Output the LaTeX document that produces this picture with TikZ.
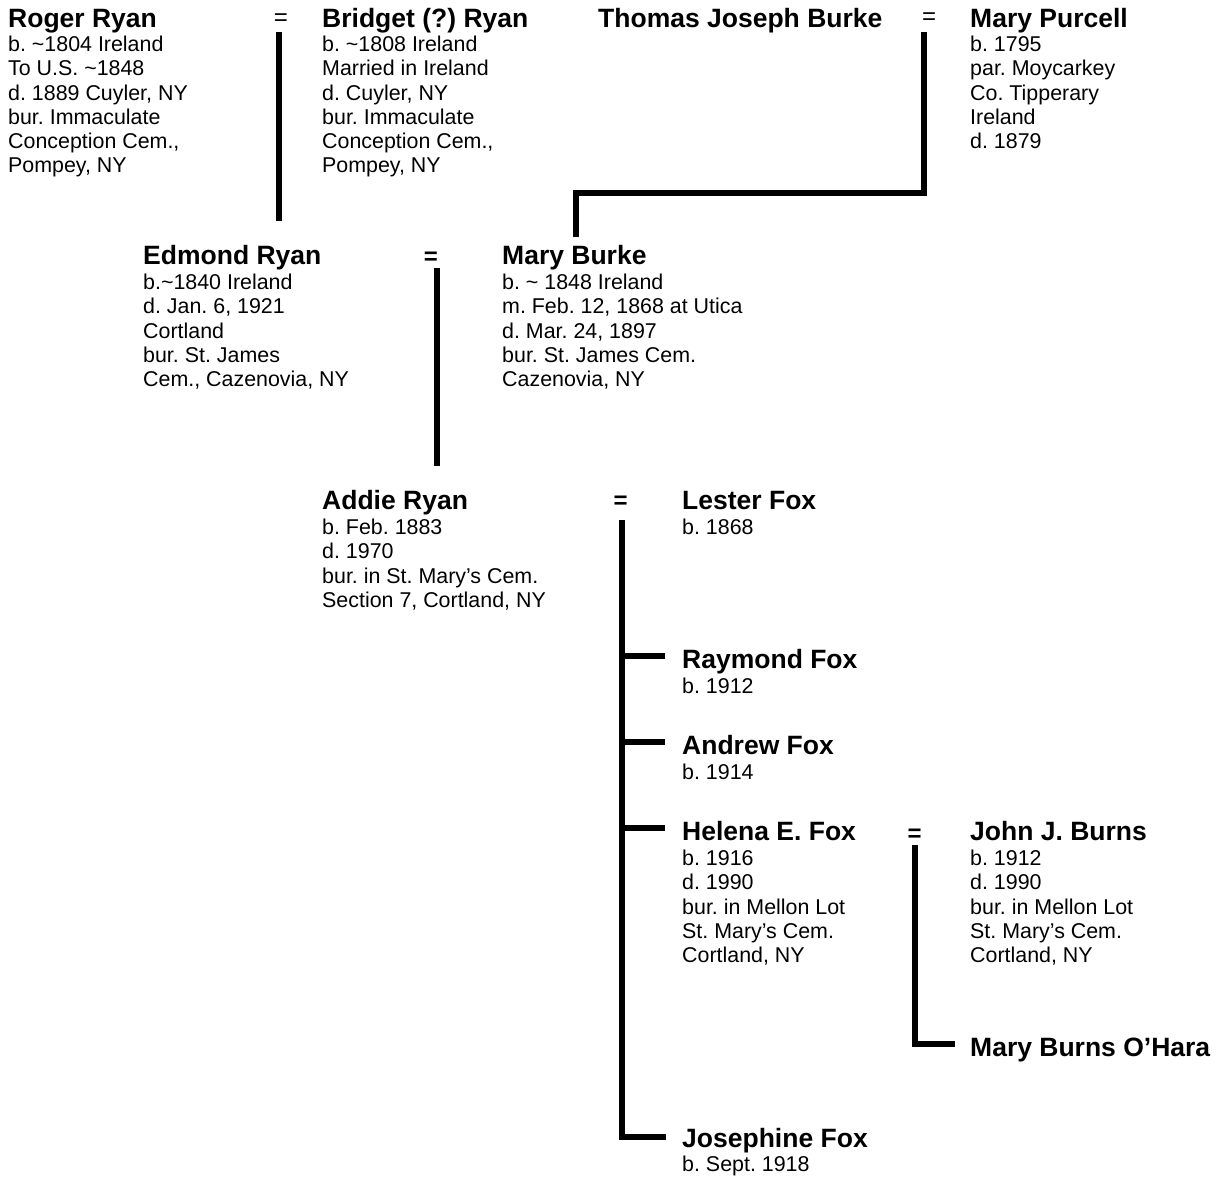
\documentclass[tikz,border=0pt]{standalone}
\usepackage{fontspec}
\setmainfont{Liberation Sans}
\usetikzlibrary{positioning}
\frenchspacing

\begin{document}
\begin{tikzpicture}[x=1pt,y=1pt]
  \tikzstyle{person} = [inner sep=0,anchor=base west,font=\fontsize{26.5}{30}\selectfont\bfseries];
  \tikzstyle{facts} = [inner sep=0,align=left,font=\fontsize{21.4}{24.2}\selectfont];
  \tikzstyle{wed} = [inner sep=0,font=\fontsize{24}{24}\selectfont];
  \tikzstyle{bwed} = [wed,font=\fontsize{24}{24}\selectfont\bfseries];
  \tikzstyle{tie} = [line width=6pt];
  \useasboundingbox (0,0) rectangle (1220,-1178);
  \node[person] (roger) at (8,-27) {Roger Ryan};
  \node[facts,below right=9pt and 0pt of roger.base west] (rogerF) {b. \textasciitilde1804 Ireland\\To U.S. \textasciitilde1848\\d. 1889 Cuyler, NY\\bur. Immaculate\\Conception Cem.,\\Pompey, NY};
  \node[wed] (eqRB) at (281,-20) {=};
  \node[person] (bridget) at (322,-27) {Bridget (?) Ryan};
  \node[facts,below right=9pt and 0pt of bridget.base west] (bridgetF) {b. \textasciitilde1808 Ireland\\Married in Ireland\\d. Cuyler, NY\\bur. Immaculate\\Conception Cem.,\\Pompey, NY};
  \node[person] (thomas) at (598,-27) {Thomas Joseph Burke};
  \node[wed] (eqTM) at (929,-19) {=};
  \node[person] (mpurcell) at (970,-27) {Mary Purcell};
  \node[facts,below right=9pt and 0pt of mpurcell.base west] (mpurcellF) {b. 1795\\par. Moycarkey\\Co. Tipperary\\Ireland\\d. 1879};
  \node[person] (edmond) at (143,-264) {Edmond Ryan};
  \node[facts,below right=10pt and 0pt of edmond.base west] (edmondF) {b.\textasciitilde1840 Ireland\\d. Jan. 6, 1921\\Cortland\\bur. St. James\\Cem., Cazenovia, NY};
  \node[bwed] (eqEM) at (431,-258) {=};
  \node[person] (mburke) at (502,-264) {Mary Burke};
  \node[facts,below right=10pt and 0pt of mburke.base west] (mburkeF) {b. \textasciitilde{} 1848 Ireland\\m. Feb. 12, 1868 at Utica\\d. Mar. 24, 1897\\bur. St. James Cem.\\Cazenovia, NY};
  \node[person] (addie) at (322,-509) {Addie Ryan};
  \node[facts,below right=10pt and 0pt of addie.base west] (addieF) {b. Feb. 1883\\d. 1970\\bur. in St. Mary’s Cem.\\Section 7, Cortland, NY};
  \node[bwed] (eqAL) at (620.5,-502.5) {=};
  \node[person] (lester) at (682,-509) {Lester Fox};
  \node[facts,below right=10pt and 0pt of lester.base west] (lesterF) {b. 1868};
  \node[person] (raymond) at (682,-668) {Raymond Fox};
  \node[facts,below right=10pt and 0pt of raymond.base west] (raymondF) {b. 1912};
  \node[person] (andrew) at (682,-754) {Andrew Fox};
  \node[facts,below right=10pt and 0pt of andrew.base west] (andrewF) {b. 1914};
  \node[person] (helena) at (682,-840) {Helena E. Fox};
  \node[facts,below right=10pt and 0pt of helena.base west] (helenaF) {b. 1916\\d. 1990\\bur. in Mellon Lot\\St. Mary’s Cem.\\Cortland, NY};
  \node[bwed] (eqHJ) at (914.5,-835) {=};
  \node[person] (john) at (970,-840) {John J. Burns};
  \node[facts,below right=10pt and 0pt of john.base west] (johnF) {b. 1912\\d. 1990\\bur. in Mellon Lot\\St. Mary’s Cem.\\Cortland, NY};
  \node[person] (mbohara) at (970,-1056) {Mary Burns O’Hara};
  \node[person] (josephine) at (682,-1147) {Josephine Fox};
  \node[facts,below right=9pt and 0pt of josephine.base west] (josephineF) {b. Sept. 1918};
  \draw[tie] ([xshift=-2pt,yshift=-12pt]eqRB.center) -- ([xshift=-2pt,yshift=43pt]eqRB.center |- edmond.base);
  \draw[tie] ([xshift=-5pt,yshift=-13pt]eqTM.center) |- ([xshift=2pt,yshift=71pt]mburke.base) -- ([xshift=2pt,yshift=27pt]mburke.base);
  \draw[tie] ([xshift=5.5pt,yshift=-10pt]eqEM.center) -- ([xshift=5.5pt,yshift=43pt]eqEM.center |- addie.base);
  \draw[tie] ([xshift=1pt,yshift=-17.5pt]eqAL.center) |- ([xshift=-16pt,yshift=10.5pt]josephine.base west);
  \foreach \kid in {raymond,andrew,helena}
    \draw[tie] ([xshift=1pt,yshift=12pt]eqAL.center |- \kid.base west) -- ([xshift=-17pt,yshift=12pt]\kid.base west);
  \draw[tie] ([xshift=0.5pt,yshift=-10pt]eqHJ.center) |- ([xshift=-15pt,yshift=12pt]mbohara.base west);
\end{tikzpicture}
\end{document}
